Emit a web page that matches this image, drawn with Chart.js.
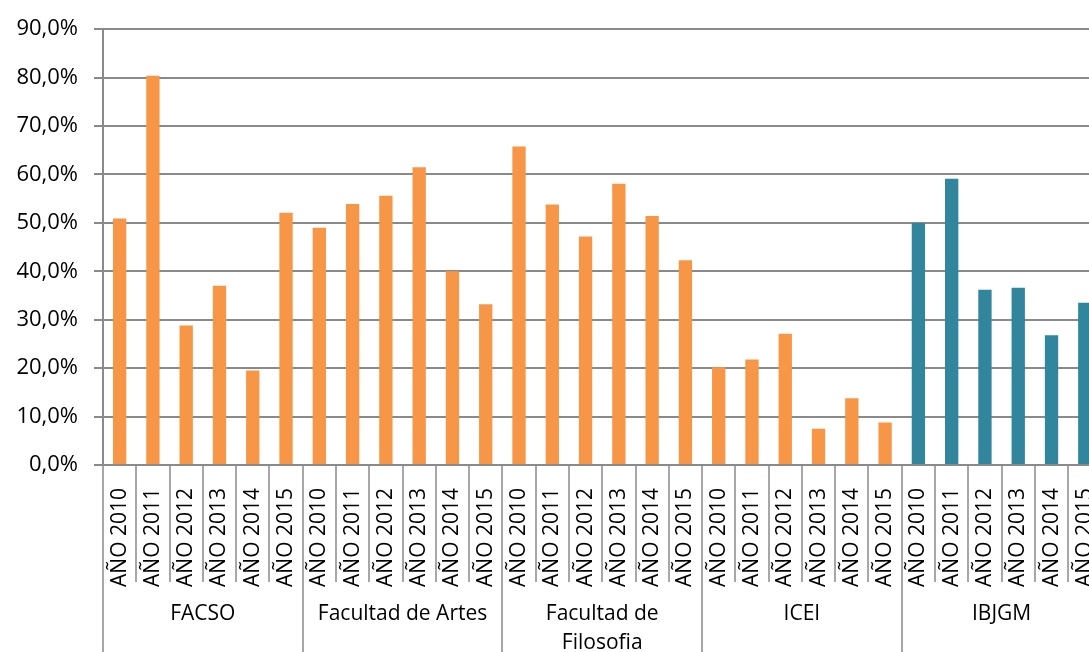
<!DOCTYPE html>
<html>
<head>
<meta charset="utf-8">
<script src="https://cdn.jsdelivr.net/npm/chart.js@4/dist/chart.umd.min.js"></script>
<style>
  html, body { margin: 0; padding: 0; background: #fff; overflow: hidden; }
  #wrap { width: 1125px; height: 652px; }
</style>
</head>
<body>
<div id="wrap"><canvas id="chart"></canvas></div>
<script>
// groups on the lower axis row, years on the upper one
const groups = ['FACSO', 'Facultad de Artes', ['Facultad de', 'Filosofia'], 'ICEI', 'IBJGM'];
const years = ['AÑO 2010', 'AÑO 2011', 'AÑO 2012', 'AÑO 2013', 'AÑO 2014', 'AÑO 2015'];

// percentages per group, one value per year
const facso = [50.9, 80.4, 28.8, 37.0, 19.5, 52.1];
const artes = [49.0, 53.9, 55.6, 61.5, 40.0, 33.2];
const filosofia = [65.8, 53.8, 47.2, 58.1, 51.4, 42.3];
const icei = [20.2, 21.8, 27.1, 7.5, 13.8, 8.8];
const ibjgm = [50.0, 59.1, 36.2, 36.6, 26.8, 33.5];

const yTicks = [0, 10, 20, 30, 40, 50, 60, 70, 80, 90];

const series = [facso, artes, filosofia, icei, ibjgm];
const labels = [];
const values = [];
const colors = [];
series.forEach((s, g) => {
  s.forEach((v, i) => {
    labels.push(years[i]);
    values.push(v);
    colors.push(g === 4 ? '#31859c' : '#f79646');
  });
});

const FONT = { family: "'Open Sans', sans-serif", size: 21 };
const LINE = '#8a8a8a';

// year dividers and the group row under the x axis
const groupAxis = {
  id: 'groupAxis',
  afterDraw(chart) {
    const ctx = chart.ctx;
    const x = chart.scales.x;
    const top = chart.chartArea.bottom;
    const bottom = chart.height;
    const half = (x.getPixelForValue(1) - x.getPixelForValue(0)) / 2;
    ctx.save();
    ctx.strokeStyle = LINE;
    ctx.lineWidth = 1.5;
    for (let i = 0; i <= labels.length; i++) {
      const px = Math.round(x.getPixelForValue(i) - half);
      const isGroup = i % years.length === 0;
      ctx.beginPath();
      ctx.moveTo(px, top);
      ctx.lineTo(px, isGroup ? bottom : top + 117);
      ctx.stroke();
    }
    ctx.fillStyle = '#000';
    ctx.font = `${FONT.size}px ${FONT.family}`;
    ctx.textAlign = 'center';
    ctx.textBaseline = 'middle';
    groups.forEach((name, g) => {
      const cx = (x.getPixelForValue(g * 6) + x.getPixelForValue(g * 6 + 5)) / 2;
      const lines = Array.isArray(name) ? name : [name];
      lines.forEach((t, k) => ctx.fillText(t, cx, top + 149 + k * 29));
    });
    ctx.restore();
  }
};

new Chart(document.getElementById('chart'), {
  type: 'bar',
  data: {
    labels: labels,
    datasets: [{
      data: values,
      backgroundColor: colors,
      barPercentage: 0.4,
      categoryPercentage: 1.0
    }]
  },
  options: {
    responsive: true,
    maintainAspectRatio: false,
    animation: false,
    layout: { padding: { top: 25, right: 0, bottom: 0, left: 0 } },
    plugins: { legend: { display: false }, tooltip: { enabled: false } },
    scales: {
      x: {
        offset: true,
        grid: { display: false },
        border: { display: false },
        ticks: {
          autoSkip: false,
          minRotation: 90,
          maxRotation: 90,
          padding: 15,
          color: '#000',
          font: FONT
        },
        afterFit(s) { s.height = 187; }
      },
      y: {
        min: 0,
        max: 90,
        afterBuildTicks(s) { s.ticks = yTicks.map(v => ({ value: v })); },
        grid: { color: LINE, lineWidth: 2, tickLength: 9 },
        border: { color: LINE, width: 2 },
        ticks: {
          padding: 16,
          color: '#000',
          font: { family: FONT.family, size: 22 },
          callback: v => v.toFixed(1).replace('.', ',') + '%'
        },
        afterFit(s) { s.width = 103; }
      }
    }
  },
  plugins: [groupAxis]
});
</script>
</body>
</html>
